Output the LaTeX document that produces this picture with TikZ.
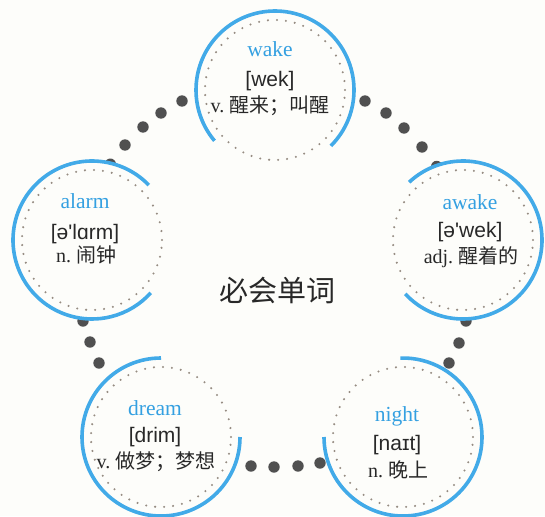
\documentclass[tikz,border=0pt]{standalone}
\usepackage{fontspec}
\setmainfont{Liberation Serif}
\newfontfamily\ipafont{Liberation Sans}[Ligatures=TeXOff]
\newfontfamily\cjk{Noto Sans CJK SC}
\definecolor{bgc}{RGB}{253,253,250}
\definecolor{wordblue}{RGB}{52,160,225}
\definecolor{arcblue}{RGB}{66,170,232}
\definecolor{dotgray}{RGB}{80,80,80}
\definecolor{ringdots}{RGB}{150,140,130}
\definecolor{ink}{RGB}{40,40,40}
\tikzset{
  word/.style={anchor=base, text=wordblue, font=\fontsize{21.5}{22}\selectfont, inner sep=0pt},
  ipa/.style={anchor=base, text=ink, font=\ipafont\fontsize{21}{22}\selectfont, inner sep=0pt},
  mean/.style={anchor=base, text=ink, font=\fontsize{20}{22}\selectfont, inner sep=0pt},
  ring/.style={draw=arcblue, line width=3.6pt},
  disk/.style={fill=bgc},
  dring/.style={draw=ringdots, line width=2.3pt, line cap=round, dash pattern=on 0pt off 9pt},
  bigdot/.style={fill=dotgray},
  title/.style={text=ink, font=\cjk\fontsize{29}{30}\selectfont, inner sep=0pt}
}
\begin{document}
\begin{tikzpicture}[x=1pt,y=-1pt]
\fill[bgc] (0,0) rectangle (545,516);
\useasboundingbox (0,0) rectangle (545,516);

% circle centres
\coordinate (cwake)  at (275,90);
\coordinate (cawake) at (463,240);
\coordinate (calarm) at (92,240);
\coordinate (cdream) at (161,437);
\coordinate (cnight) at (403,437);

% connector dots
\foreach \p in {(182,101),(161,113),(143,127),(125,145),(110.3,164.2),
                (365,101),(386,113),(404,128),(422,147),(436.7,166.5),
                (83,321),(90,342),(99,363),
                (466,321),(459,343),(449,363),
                (251,466),(274,467),(298,466),(320,463)}
  \fill[bigdot] \p circle (5.7pt);

% white disks hiding the dots that pass behind the circles
\foreach \c in {cwake,cawake,calarm,cdream,cnight}
  \fill[disk] (\c) circle (79pt);

% dotted inner rings
\foreach \c in {cwake,cawake,calarm,cdream,cnight}
  \draw[dring] (\c) circle (70pt);

% blue arcs
\draw[ring] (cwake)  ++(-45:79pt)  arc[start angle=-45,  end angle=220, radius=79pt];
\draw[ring] (cawake) ++(-137:79pt) arc[start angle=-137, end angle=133, radius=79pt];
\draw[ring] (calarm) ++(44:79pt)   arc[start angle=44,   end angle=318, radius=79pt];
\draw[ring] (cdream) ++(90:79pt)   arc[start angle=90,   end angle=360, radius=79pt];
\draw[ring] (cnight) ++(180:79pt)  arc[start angle=180,  end angle=452, radius=79pt];

% texts
\node[word] (wwake) at (270,57) {wake};
\node[ipa]  (pwake) at (270,87) {[wek]};
\node[mean] (mwake) at (270,113) {v.\ {\cjk 醒来；叫醒}};

\node[word] (wawake) at (470,209) {awake};
\node[ipa]  (pawake) at (470,237) {[ə'wek]};
\node[mean] (mawake) at (471,263) {adj.\ {\cjk 醒着的}};

\node[word] (walarm) at (85,208) {alarm};
\node[ipa]  (palarm) at (85,239) {[ə'lɑrm]};
\node[mean] (malarm) at (86,262) {n.\ {\cjk 闹钟}};

\node[word] (wdream) at (155,415) {dream};
\node[ipa]  (pdream) at (155,442) {[drim]};
\node[mean] (mdream) at (156,468) {v.\ {\cjk 做梦；梦想}};

\node[word] (wnight) at (397,421) {night};
\node[ipa]  (pnight) at (397,450) {[naɪt]};
\node[mean] (mnight) at (398,477) {n.\ {\cjk 晚上}};

\node[title] (center) at (277,290) {必会单词};
\end{tikzpicture}
\end{document}
